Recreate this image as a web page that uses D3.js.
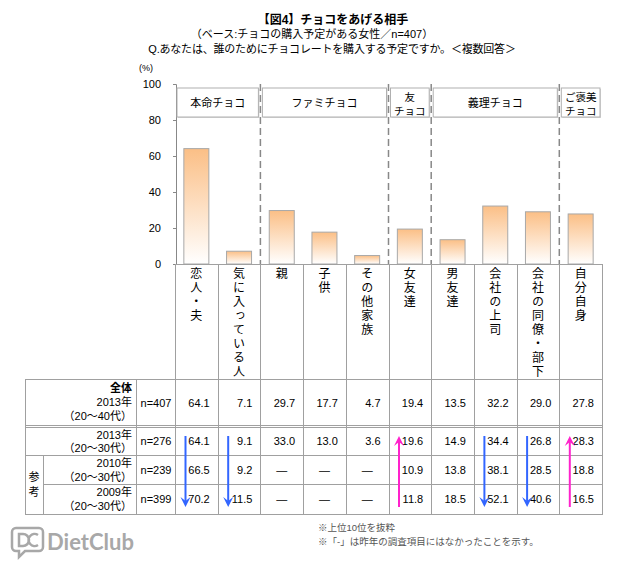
<!DOCTYPE html>
<html><head><meta charset="utf-8">
<script src="https://cdn.jsdelivr.net/npm/d3@7"></script>
<style>
body{margin:0;background:#fff;}
svg{display:block;font-family:"Liberation Sans","Noto Sans CJK JP",sans-serif;}
</style></head>
<body><svg id="c" width="640" height="565"></svg>
<script>
const categories = ["恋人・夫","気に入っている人","親","子供","その他家族","女友達","男友達","会社の上司","会社の同僚・部下","自分自身"];
const values2013All = [64.1,7.1,29.7,17.7,4.7,19.4,13.5,32.2,29.0,27.8];
const ref2013 = [64.1,9.1,33.0,13.0,3.6,19.6,14.9,34.4,26.8,28.3];
const ref2010 = [66.5,9.2,null,null,null,10.9,13.8,38.1,28.5,18.8];
const ref2009 = [70.2,11.5,null,null,null,11.8,18.5,52.1,40.6,16.5];
const trends = ["down","down",null,null,null,"up",null,"down","down","up"];
const groupNames = [["本命チョコ"],["ファミチョコ"],["友","チョコ"],["義理チョコ"],["ご褒美","チョコ"]];
const groupStart = [0,2,5,6,9];
const groupEnd = [1,4,5,8,9];
const yTicks = [0,20,40,60,80,100];
const rowLabels = [["全体","2013年","（20～40代）"],["2013年","（20～30代）"],["2010年","（20～30代）"],["2009年","（20～30代）"]];
const rowN = ["n=407","n=276","n=239","n=399"];
const titleLines = ["【図4】チョコをあげる相手","（ベース:チョコの購入予定がある女性／n=407）","Q.あなたは、誰のためにチョコレートを購入する予定ですか。＜複数回答＞"];
const notes = ["※上位10位を抜粋","※「-」は昨年の調査項目にはなかったことを示す。"];

const svg = d3.select("#c");
const x = d3.scaleBand().domain(categories).range([175,602]).padding(0);
const y = d3.scaleLinear().domain([0,100]).range([264,84]);
const bw = x.bandwidth();
const lineC = "#a0a0a0";

// titles
svg.append("text").attr("x",333).attr("y",24).attr("text-anchor","middle").attr("font-size",12).attr("font-weight","bold").text(titleLines[0]);
svg.append("text").attr("x",312).attr("y",38).attr("text-anchor","middle").attr("font-size",11).text(titleLines[1]);
svg.append("text").attr("x",332).attr("y",53).attr("text-anchor","middle").attr("font-size",11).attr("letter-spacing",-0.2).text(titleLines[2]);
svg.append("text").attr("x",146).attr("y",71).attr("text-anchor","middle").attr("font-size",9).text("(%)");

// gradient
const defs = svg.append("defs");
const g = defs.append("linearGradient").attr("id","bg").attr("x1",0).attr("x2",0).attr("y1",0).attr("y2",1);
g.append("stop").attr("offset","0%").attr("stop-color","#fbbf86");
g.append("stop").attr("offset","100%").attr("stop-color","#ffffff");

// y axis
const ax = svg.append("g").attr("transform","translate(176,0)")
  .call(d3.axisLeft(y).tickValues(yTicks).tickSize(3).tickPadding(12));
ax.selectAll("text").attr("font-size",11).attr("fill","#000").attr("font-family","Liberation Sans, sans-serif");
ax.selectAll("line,path").attr("stroke","#888");

// group boxes
groupNames.forEach((nm,i)=>{
  const x0 = x(categories[groupStart[i]])+2, x1 = x(categories[groupEnd[i]])+bw-2;
  svg.append("rect").attr("x",x0+1).attr("y",89).attr("width",x1-x0).attr("height",29).attr("fill","#d8d8d8");
  svg.append("rect").attr("x",x0).attr("y",88).attr("width",x1-x0).attr("height",29).attr("fill","#fff").attr("stroke","#b0b0b0");
  const cx=(x0+x1)/2;
  const fs = (x1-x0) < 45 ? 10.5 : 11;
  const t = svg.append("text").attr("text-anchor","middle").attr("font-size",fs);
  if(nm.length===1){
    t.append("tspan").attr("x",cx).attr("y",107).text(nm[0]);
  } else {
    t.append("tspan").attr("x",cx).attr("y",101).text(nm[0]);
    t.append("tspan").attr("x",cx).attr("y",115).text(nm[1]);
  }
});

// dashed separators
[2,5,6,9].forEach(i=>{
  const xx = x(categories[i]);
  svg.append("line").attr("x1",xx).attr("x2",xx).attr("y1",84).attr("y2",264)
    .attr("stroke","#888").attr("stroke-width",1.5).attr("stroke-dasharray","7,4");
});

// bars
svg.selectAll("rect.bar").data(values2013All).join("rect").attr("class","bar")
  .attr("x",(d,i)=>x(categories[i])+bw/2-12.5).attr("width",25)
  .attr("y",d=>y(d)).attr("height",d=>y(0)-y(d))
  .attr("fill","url(#bg)").attr("stroke","#a8a8a8");

// table lines
function hl(yy,x0,x1){svg.append("line").attr("x1",x0).attr("x2",x1).attr("y1",yy).attr("y2",yy).attr("stroke",lineC);}
function vl(xx,y0,y1){svg.append("line").attr("x1",xx).attr("x2",xx).attr("y1",y0).attr("y2",y1).attr("stroke",lineC);}
hl(264.5,175,602); hl(379.5,25,602); hl(425.5,25,602); hl(427.5,25,602);
hl(455.5,25,602); hl(484.5,43,602); hl(514.5,25,602);
vl(25.5,379,515); vl(43.5,455,515); vl(136.5,379,515);
categories.forEach((c,i)=>vl(Math.round(x(c))+0.5,264,515));
vl(602.5,264,515);

// vertical category labels
categories.forEach((c,i)=>{
  const cx = x(c)+bw/2;
  svg.append("text").attr("x",cx).attr("y",267)
    .style("writing-mode","vertical-rl").attr("letter-spacing",2)
    .attr("font-size",12).attr("font-family","Noto Sans CJK JP").text(c);
});

// row labels
const rowTextY = [[392,406,420],[439,452],[467,481],[496,510]];
rowLabels.forEach((r,i)=>{
  const t = svg.append("text").attr("text-anchor","end").attr("font-size",11);
  r.forEach((s,j)=>{
    t.append("tspan").attr("x",132).attr("y",rowTextY[i][j])
      .attr("font-weight",(i===0&&j===0)?"bold":"normal").text(s);
  });
});
const ck = svg.append("text").attr("text-anchor","middle").attr("font-size",11);
ck.append("tspan").attr("x",34).attr("y",481).text("参");
ck.append("tspan").attr("x",34).attr("y",496).text("考");
const rowY = [407,445,474,503];
rowN.forEach((t,i)=>svg.append("text").attr("x",156).attr("y",rowY[i]).attr("text-anchor","middle").attr("font-size",11).text(t));

[values2013All,ref2013,ref2010,ref2009].forEach((arr,ri)=>{
  arr.forEach((v,i)=>{
    const x0=x(categories[i]);
    if(v===null){
      svg.append("text").attr("x",x0+bw/2).attr("y",rowY[ri]).attr("text-anchor","middle").attr("font-size",11).text("—");
    } else {
      svg.append("text").attr("x",x0+bw-8).attr("y",rowY[ri]).attr("text-anchor","end").attr("font-size",11).text(v.toFixed(1));
    }
  });
});

// arrows
trends.forEach((t,i)=>{
  if(!t) return;
  const ax0 = x(categories[i])+10.5;
  const col = t==="down" ? "#3366ff" : "#ff22cc";
  const yTop=436, yBot=507;
  if(t==="down"){
    svg.append("line").attr("x1",ax0).attr("x2",ax0).attr("y1",yTop).attr("y2",yBot-6).attr("stroke",col).attr("stroke-width",2);
    svg.append("path").attr("d",`M${ax0-5},${yBot-10}L${ax0},${yBot}L${ax0+5},${yBot-10}L${ax0},${yBot-6}Z`).attr("fill",col);
  } else {
    svg.append("line").attr("x1",ax0).attr("x2",ax0).attr("y1",yTop+6).attr("y2",yBot).attr("stroke",col).attr("stroke-width",2);
    svg.append("path").attr("d",`M${ax0-5},${yTop+10}L${ax0},${yTop}L${ax0+5},${yTop+10}L${ax0},${yTop+6}Z`).attr("fill",col);
  }
});

// notes
notes.forEach((n,i)=>svg.append("text").attr("x",318).attr("y",531+i*14).attr("font-size",9.5).attr("fill","#555").text(n));

// logo
const lg = svg.append("g").attr("fill","none").attr("stroke","#a8a8a8").attr("stroke-width",2.5);
lg.append("path").attr("d","M16,528 h23 a4,4 0 0 1 4,4 v15 a4,4 0 0 1 -4,4 h-14 l-6,6 v-6 h-3 a4,4 0 0 1 -4,-4 v-15 a4,4 0 0 1 4,-4 z");
lg.append("path").attr("d","M19,534 h4 a6,6 0 0 1 0,12 h-4 z");
lg.append("path").attr("d","M38,535 a6,6 0 1 0 0,10");
svg.append("text").attr("x",47).attr("y",550).attr("font-size",22).attr("font-weight","bold")
  .attr("font-family","Lato, sans-serif").attr("fill","#a8a8a8").text("DietClub");
</script></body></html>
